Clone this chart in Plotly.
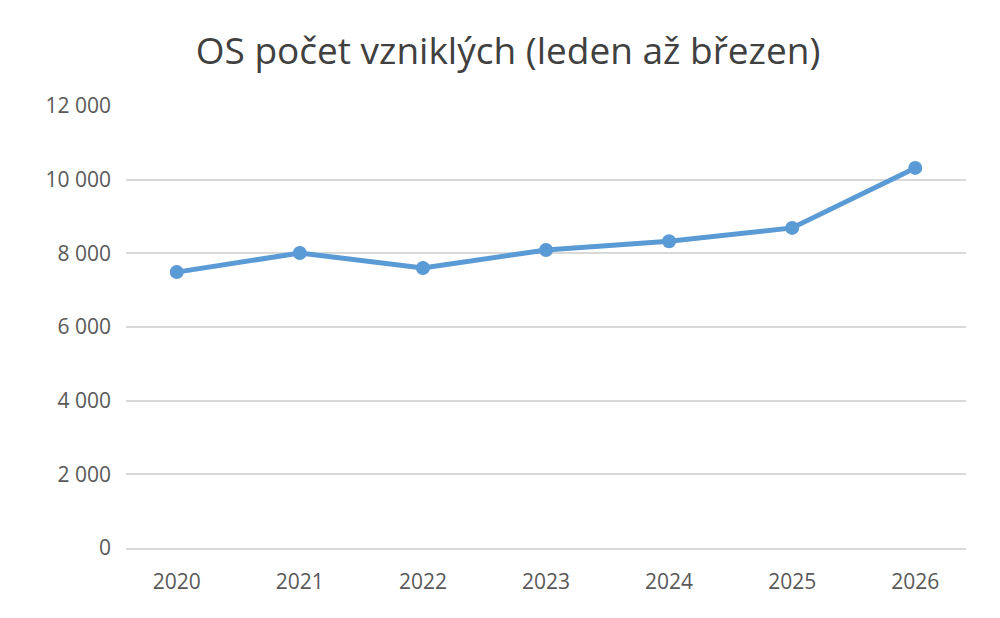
import plotly.graph_objects as go

years = ["2020", "2021", "2022", "2023", "2024", "2025", "2026"]
counts = [7490, 8010, 7600, 8090, 8330, 8690, 10320]
y_ticks = [0, 2000, 4000, 6000, 8000, 10000, 12000]
y_labels = ["0", "2 000", "4 000", "6 000", "8 000", "10 000", "12 000"]

fig = go.Figure()
fig.add_trace(go.Scatter(
    x=years, y=counts, mode="lines+markers",
    line=dict(color="#5b9bd5", width=5),
    marker=dict(color="#5b9bd5", size=14),
))
fig.update_layout(
    width=1000, height=618,
    paper_bgcolor="white", plot_bgcolor="white",
    margin=dict(l=118, r=42, t=98, b=78),
    title=dict(text="OS počet vzniklých (leden až březen)", x=0.5, xanchor="center",
               y=0.93, yanchor="middle",
               font=dict(family="Open Sans, Liberation Sans, sans-serif", size=37, color="#404040")),
    font=dict(family="Open Sans, Liberation Sans, sans-serif", size=21, color="#595959"),
    showlegend=False,
)
fig.update_xaxes(showgrid=False, showline=True, linecolor="#d9d9d9", linewidth=1.5,
                 ticks="", ticklabelstandoff=14)
fig.update_yaxes(range=[0, 12000], tickvals=y_ticks, ticktext=y_labels,
                 showgrid=True, gridcolor="#d9d9d9", gridwidth=1.5, zeroline=False,
                 showline=False, ticklabelstandoff=14)
fig.write_html("out.html")
